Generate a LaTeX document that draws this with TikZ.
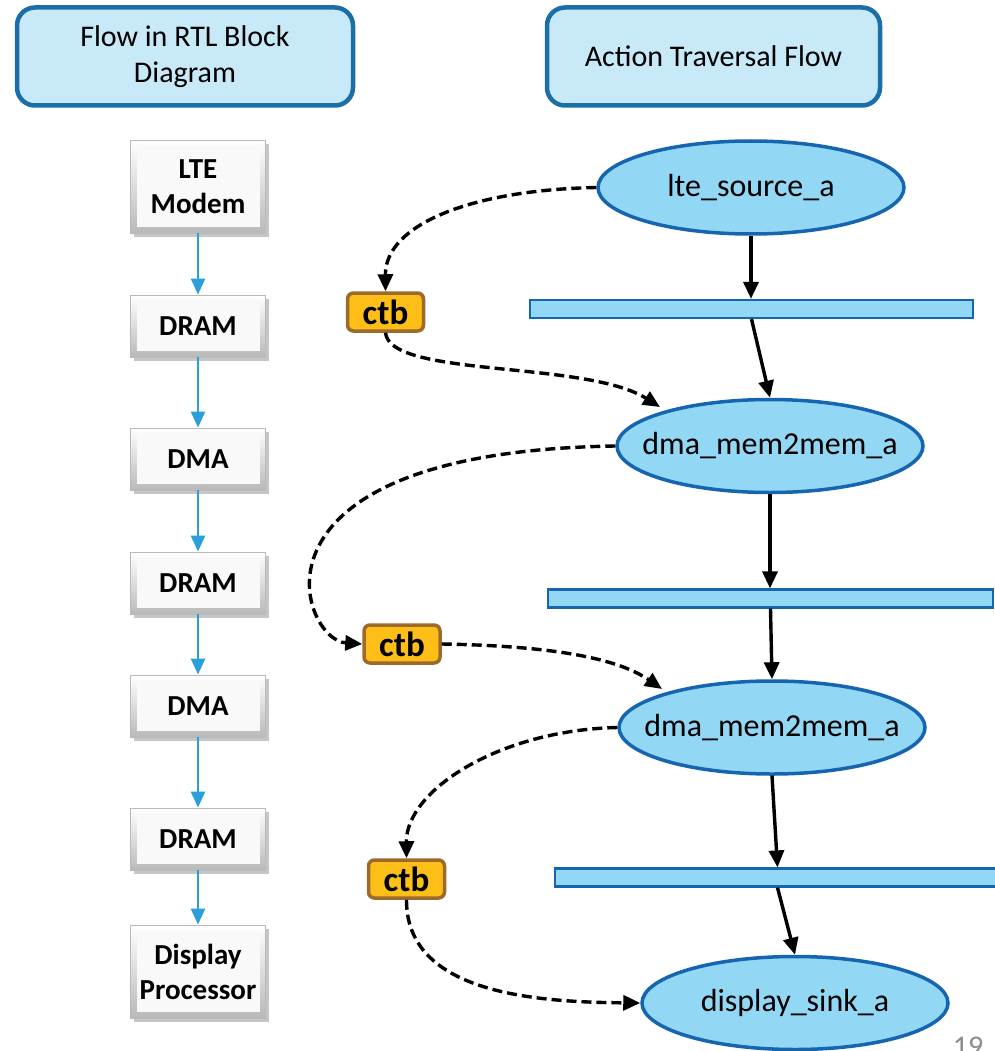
\documentclass[tikz,border=0pt]{standalone}
\usepackage{fontspec}
\setmainfont{Carlito}
\usetikzlibrary{shapes.geometric,shadows,arrows.meta}
\definecolor{hdrfill}{HTML}{C8E9F8}
\definecolor{hdrline}{HTML}{1B6FA8}
\definecolor{ellfill}{HTML}{92D8F5}
\definecolor{ellline}{HTML}{1565B0}
\definecolor{ctbfill}{HTML}{FDBF17}
\definecolor{ctbline}{HTML}{9C6A2A}
\definecolor{flowblue}{HTML}{2A9FD8}
\definecolor{pgnum}{HTML}{8C8C8C}
\begin{document}
\begin{tikzpicture}[x=1pt,y=-1pt,
  header/.style={draw=hdrline, line width=4.5pt, fill=hdrfill, rounded corners=18pt,
    minimum height=98pt, align=center, inner sep=0pt, font=\fontsize{30}{36}\selectfont},
  blockbox/.style={draw=gray!55, line width=0.8pt, top color=white, bottom color=gray!55,
    minimum width=135pt, align=center, inner sep=0pt,
    font=\fontsize{29}{35}\selectfont\bfseries,
    drop shadow={opacity=0.45, shadow xshift=3pt, shadow yshift=-4pt},
    path picture={\fill[gray!5] ([shift={(6pt,-6pt)}]path picture bounding box.north west)
      rectangle ([shift={(-6pt,6pt)}]path picture bounding box.south east);}},
  actell/.style={ellipse, draw=ellline, line width=3.5pt, fill=ellfill, minimum width=306pt,
    minimum height=93pt, inner sep=0pt,
    label={[font=\fontsize{32}{36}\selectfont, inner sep=0pt]center:#1}},
  barbox/.style={draw=ellline, line width=2.2pt, fill=ellfill, minimum height=18pt, inner sep=0pt},
  ctbbox/.style={draw=ctbline, line width=3.5pt, fill=ctbfill, rounded corners=6pt,
    minimum width=76pt, minimum height=38pt, inner sep=0pt, font=\fontsize{35}{36}\selectfont\bfseries},
  flowarrow/.style={draw=flowblue, line width=2.4pt, -{Triangle[width=14pt,length=16pt]}},
  solidarrow/.style={draw=black, line width=3.4pt, -{Triangle[width=15pt,length=17pt]}},
  dasharrow/.style={draw=black, line width=3.4pt, dash pattern=on 10pt off 5pt,
    -{Triangle[width=15pt,length=17pt]}}
]
\useasboundingbox (0,0) rectangle (994,1051);

% headers
\node[header, minimum width=336pt] (hl) at (185,56.5) {Flow in RTL Block\\Diagram};
\node[header, minimum width=333pt] (hr) at (713.5,56.5) {Action Traversal Flow};

% left column
\node[blockbox, minimum height=93pt] (b1) at (198,186.5) {LTE\\Modem};
\node[blockbox, minimum height=62pt] (b2) at (198,326) {DRAM};
\node[blockbox, minimum height=62pt] (b3) at (198,459) {DMA};
\node[blockbox, minimum height=62pt] (b4) at (198,583) {DRAM};
\node[blockbox, minimum height=62pt] (b5) at (198,706) {DMA};
\node[blockbox, minimum height=62pt] (b6) at (198,839) {DRAM};
\node[blockbox, minimum height=93pt] (b7) at (198,971.5) {Display\\Processor};

\draw[flowarrow] (b1.south) -- (b2.north);
\draw[flowarrow] (b2.south) -- (b3.north);
\draw[flowarrow] (b3.south) -- (b4.north);
\draw[flowarrow] (b4.south) -- (b5.north);
\draw[flowarrow] (b5.south) -- (b6.north);
\draw[flowarrow] (b6.south) -- (b7.north);

% right column
\node[actell={lte\_source\_a}] (a1) at (751,187.5) {};
\node[actell={dma\_mem2mem\_a}] (a2) at (770,446) {};
\node[actell={dma\_mem2mem\_a}] (a3) at (772,727.5) {};
\node[actell={display\_sink\_a}] (a4) at (795,1003) {};

\node[barbox, minimum width=443pt] (r1) at (751.5,309) {};
\node[barbox, minimum width=445pt] (r2) at (770.5,598.5) {};
\node[barbox, minimum width=445pt] (r3) at (777.5,877.5) {};

\draw[solidarrow] (a1.south) -- (a1.south |- r1.north);
\draw[solidarrow] (r1.south) -- (a2.north);
\draw[solidarrow] (a2.south) -- (a2.south |- r2.north);
\draw[solidarrow] (r2.south) -- (a3.north);
\draw[solidarrow] (a3.south) -- (r3.north);
\draw[solidarrow] (r3.south) -- (a4.north);

% ctb nodes
\node[ctbbox] (c1) at (385.5,312) {ctb};
\node[ctbbox] (c2) at (402,644) {ctb};
\node[ctbbox] (c3) at (406.5,879) {ctb};

\draw[dasharrow] (a1.west) .. controls (470,190) and (385,225) .. (c1.north);
\draw[dasharrow] (c1.south) .. controls (390,378) and (585,360) .. (660,407);
\draw[dasharrow] (a2.west) .. controls (230,452) and (300,640) .. (c2.west);
\draw[dasharrow] (c2.east) .. controls (560,646) and (620,660) .. (662,689);
\draw[dasharrow] (a3.west) .. controls (500,730) and (406,790) .. (c3.north);
\draw[dasharrow] (c3.south) .. controls (406,995) and (540,1002) .. (a4.west);

% page number (cut by page edge, as in the reference)
\node[anchor=north, inner sep=0pt, text=pgnum, font=\fontsize{30}{32}\selectfont] (pg) at (968,1037) {19};
\end{tikzpicture}
\end{document}
